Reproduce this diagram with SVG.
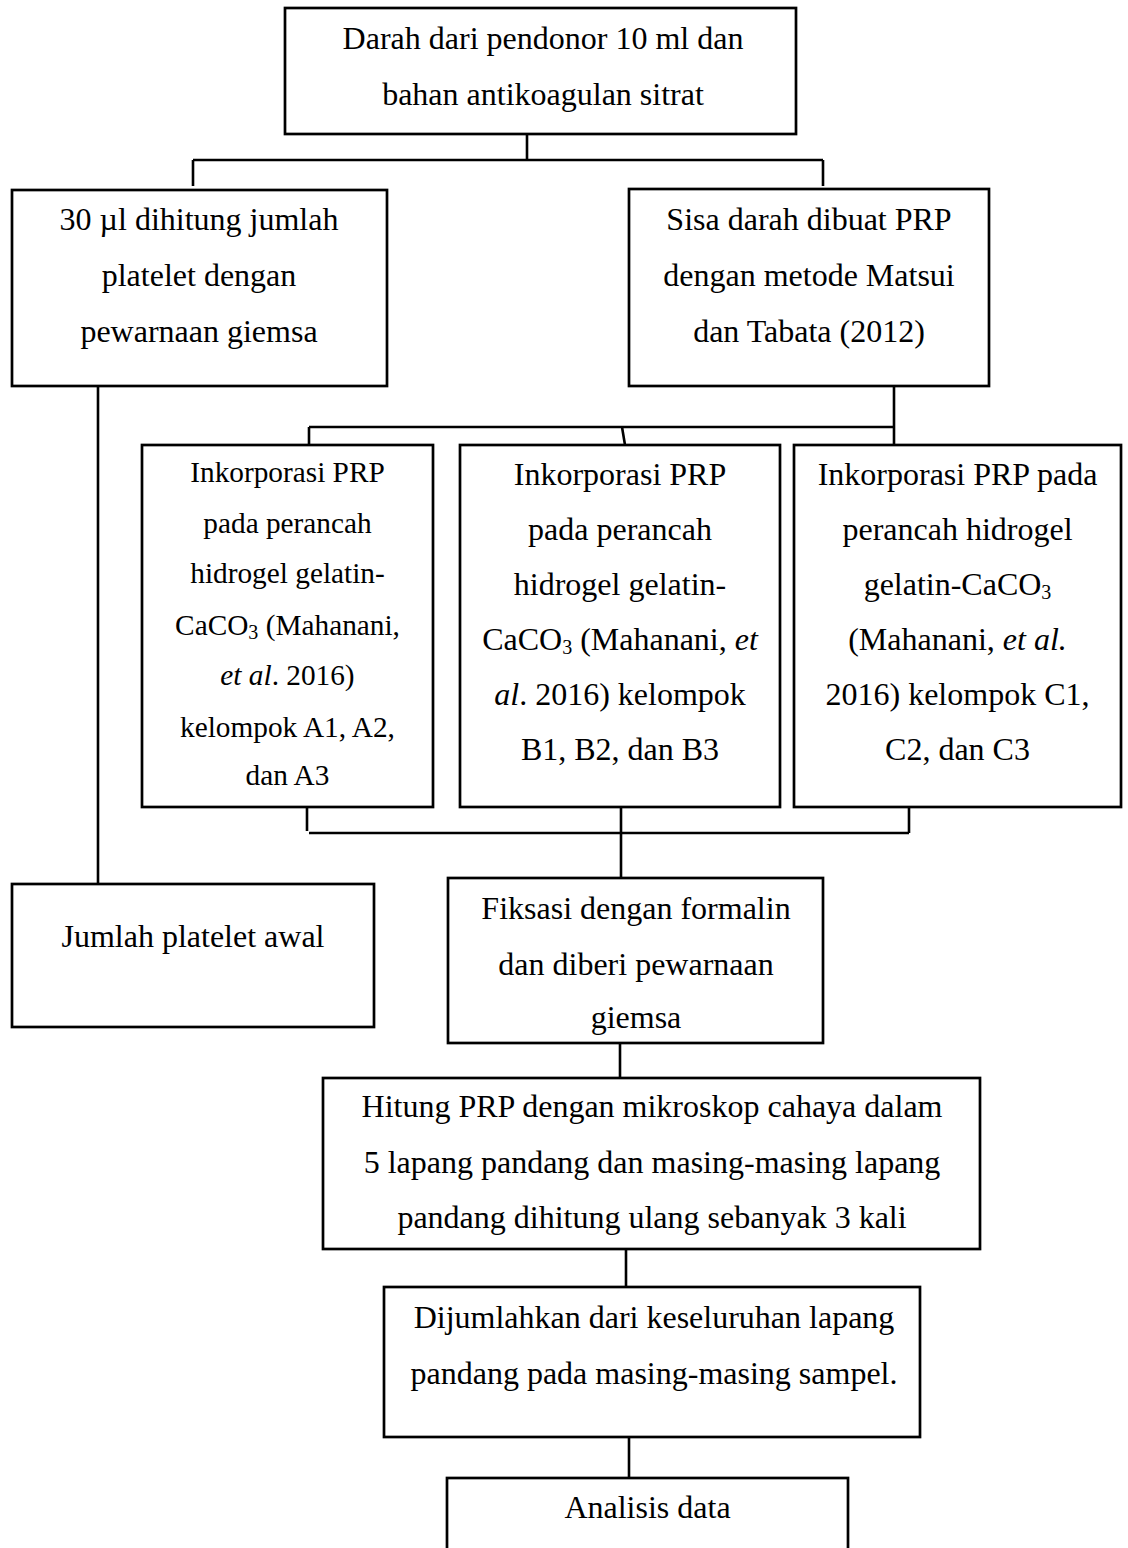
<svg xmlns="http://www.w3.org/2000/svg" width="1128" height="1548" viewBox="0 0 1128 1548">
<style>
.box{fill:#fff;stroke:#000;stroke-width:2.7}
.t{font-family:"Liberation Serif","Times New Roman",serif;font-size:32px;fill:#000;text-anchor:middle}
.s{font-size:29.3px}
.i{font-style:italic}
.sub{font-size:20px}
.c{stroke:#000;stroke-width:2.6;fill:none}
</style>
<rect width="1128" height="1548" fill="#fff"/>
<g id="connectors">
<path class="c" d="M527 134V160M193 160H823M193 160V186M823 160V186"/>
<path class="c" d="M98 386V884"/>
<path class="c" d="M894 386V445M309 427H894M309 427V445M622 427L625 445"/>
<path class="c" d="M307 807V831M309 833H909M909 807V833M621 807V878"/>
<path class="c" d="M620 1043V1078"/>
<path class="c" d="M626 1249V1287"/>
<path class="c" d="M629 1437V1478"/>
</g>
<g id="n1">
<rect class="box" x="285" y="8" width="511" height="126"/>
<text class="t" x="543" y="49">Darah dari pendonor 10 ml dan</text>
<text class="t" x="543" y="105">bahan antikoagulan sitrat</text>
</g>
<g id="n2">
<rect class="box" x="12" y="190" width="375" height="196"/>
<text class="t" x="199" y="230">30 µl dihitung jumlah</text>
<text class="t" x="199" y="286">platelet dengan</text>
<text class="t" x="199" y="342">pewarnaan giemsa</text>
</g>
<g id="n3">
<rect class="box" x="629" y="189" width="360" height="197"/>
<text class="t" x="809" y="230">Sisa darah dibuat PRP</text>
<text class="t" x="809" y="286">dengan metode Matsui</text>
<text class="t" x="809" y="342">dan Tabata (2012)</text>
</g>
<g id="nA">
<rect class="box" x="142" y="445" width="291" height="362"/>
<text class="t s" x="287.5" y="482">Inkorporasi PRP</text>
<text class="t s" x="287.5" y="533">pada perancah</text>
<text class="t s" x="287.5" y="583">hidrogel gelatin-</text>
<text class="t s" x="287.5" y="635">CaCO<tspan class="sub" dy="4">3</tspan><tspan dy="-4"> (Mahanani,</tspan></text>
<text class="t s" x="287.5" y="685"><tspan class="i">et al</tspan>. 2016)</text>
<text class="t s" x="287.5" y="737">kelompok A1, A2,</text>
<text class="t s" x="287.5" y="785">dan A3</text>
</g>
<g id="nB">
<rect class="box" x="460" y="445" width="320" height="362"/>
<text class="t" x="620" y="485">Inkorporasi PRP</text>
<text class="t" x="620" y="540">pada perancah</text>
<text class="t" x="620" y="595">hidrogel gelatin-</text>
<text class="t" x="620" y="650">CaCO<tspan class="sub" dy="4">3</tspan><tspan dy="-4"> (Mahanani, </tspan><tspan class="i">et</tspan></text>
<text class="t" x="620" y="705"><tspan class="i">al</tspan>. 2016) kelompok</text>
<text class="t" x="620" y="760">B1, B2, dan B3</text>
</g>
<g id="nC">
<rect class="box" x="794" y="445" width="327" height="362"/>
<text class="t" x="957.5" y="485">Inkorporasi PRP pada</text>
<text class="t" x="957.5" y="540">perancah hidrogel</text>
<text class="t" x="957.5" y="595">gelatin-CaCO<tspan class="sub" dy="4">3</tspan></text>
<text class="t" x="957.5" y="650">(Mahanani, <tspan class="i">et al.</tspan></text>
<text class="t" x="957.5" y="705">2016) kelompok C1,</text>
<text class="t" x="957.5" y="760">C2, dan C3</text>
</g>
<g id="n4">
<rect class="box" x="12" y="884" width="362" height="143"/>
<text class="t" x="193" y="947">Jumlah platelet awal</text>
</g>
<g id="n5">
<rect class="box" x="448" y="878" width="375" height="165"/>
<text class="t" x="636" y="919">Fiksasi dengan formalin</text>
<text class="t" x="636" y="975">dan diberi pewarnaan</text>
<text class="t" x="636" y="1028">giemsa</text>
</g>
<g id="n6">
<rect class="box" x="323" y="1078" width="657" height="171"/>
<text class="t" x="652" y="1117">Hitung PRP dengan mikroskop cahaya dalam</text>
<text class="t" x="652" y="1173">5 lapang pandang dan masing-masing lapang</text>
<text class="t" x="652" y="1228">pandang dihitung ulang sebanyak 3 kali</text>
</g>
<g id="n7">
<rect class="box" x="384" y="1287" width="536" height="150"/>
<text class="t" x="654" y="1328">Dijumlahkan dari keseluruhan lapang</text>
<text class="t" x="654" y="1384">pandang pada masing-masing sampel.</text>
</g>
<g id="n8">
<rect class="box" x="447" y="1478" width="401" height="90"/>
<text class="t" x="647.5" y="1518">Analisis data</text>
</g>
</svg>
